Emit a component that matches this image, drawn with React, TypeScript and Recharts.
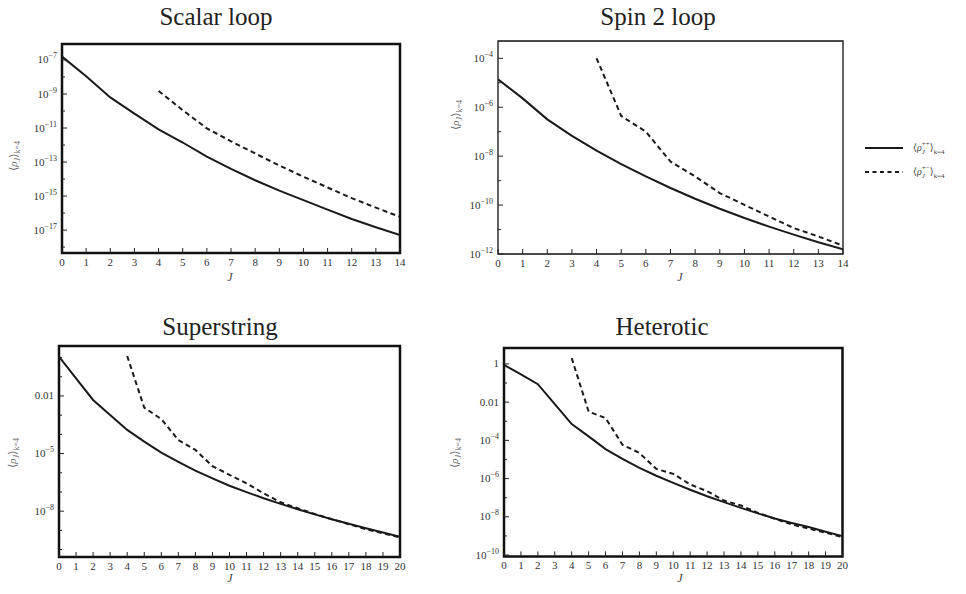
import React from 'react';
import { LineChart, Line, XAxis, YAxis, ReferenceArea } from 'recharts';

// J values on the horizontal axis
const jShort = [0, 1, 2, 3, 4, 5, 6, 7, 8, 9, 10, 11, 12, 13, 14];
const jLong = [0, 1, 2, 3, 4, 5, 6, 7, 8, 9, 10, 11, 12, 13, 14, 15, 16, 17, 18, 19, 20];

// <rho_J^{++}> (solid) and <rho_J^{+-}> (dashed), k = 4
const scalarPP = [1.58e-7, 1.12e-8, 6.3e-10, 7.1e-11, 8.3e-12, 1.41e-12, 2.1e-13, 4.0e-14, 8.5e-15, 2.1e-15, 5.8e-16, 1.6e-16, 4.5e-17, 1.48e-17, 5.1e-18];
const scalarPM = [null, null, null, null, 1.51e-9, 1.12e-10, 9.5e-12, 1.66e-12, 3.2e-13, 6.3e-14, 1.38e-14, 3.2e-15, 7.6e-16, 2.1e-16, 6.0e-17];

const spinPP = [1.38e-5, 2.3e-6, 3.2e-7, 6.8e-8, 1.7e-8, 4.7e-9, 1.48e-9, 5.0e-10, 1.82e-10, 7.1e-11, 2.95e-11, 1.32e-11, 6.2e-12, 3.0e-12, 1.55e-12];
const spinPM = [null, null, null, null, 1.0e-4, 4.4e-7, 1.0e-7, 6.0e-9, 1.48e-9, 3.1e-10, 1.02e-10, 3.4e-11, 1.15e-11, 5.2e-12, 2.2e-12];

const superPP = [1.12, 0.083, 6.2e-3, 1.02e-3, 1.7e-4, 4.2e-5, 1.12e-5, 3.7e-6, 1.29e-6, 5.1e-7, 2.1e-7, 9.8e-8, 4.7e-8, 2.4e-8, 1.26e-8, 6.8e-9, 3.8e-9, 2.2e-9, 1.29e-9, 7.8e-10, 4.7e-10];
const superPM = [null, null, null, null, 1.2, 2.45e-3, 6.3e-4, 5.1e-5, 1.55e-5, 2.2e-6, 7.8e-7, 2.8e-7, 8.5e-8, 2.9e-8, 1.41e-8, 7.1e-9, 3.8e-9, 2.1e-9, 1.15e-9, 7.1e-10, 4.2e-10];

const hetPP = [0.89, 0.28, 0.087, 7.9e-3, 7.1e-4, 1.62e-4, 3.5e-5, 1.07e-5, 3.6e-6, 1.41e-6, 6.0e-7, 2.6e-7, 1.2e-7, 5.9e-8, 2.95e-8, 1.51e-8, 8.1e-9, 4.8e-9, 2.9e-9, 1.66e-9, 9.8e-10];
const hetPM = [null, null, null, null, 2.0, 3.2e-3, 1.48e-3, 5.9e-5, 2.2e-5, 3.2e-6, 1.78e-6, 4.9e-7, 2.2e-7, 7.1e-8, 3.9e-8, 1.62e-8, 7.9e-9, 4.0e-9, 2.4e-9, 1.48e-9, 8.7e-10];

// y ticks (every decade) and the ones that carry a label
const scalarYTicks = [1e-18, 1e-17, 1e-16, 1e-15, 1e-14, 1e-13, 1e-12, 1e-11, 1e-10, 1e-9, 1e-8, 1e-7];
const scalarYLabels = [1e-17, 1e-15, 1e-13, 1e-11, 1e-9, 1e-7];
const spinYTicks = [1e-12, 1e-11, 1e-10, 1e-9, 1e-8, 1e-7, 1e-6, 1e-5, 1e-4];
const spinYLabels = [1e-12, 1e-10, 1e-8, 1e-6, 1e-4];
const superYTicks = [1e-10, 1e-9, 1e-8, 1e-7, 1e-6, 1e-5, 1e-4, 1e-3, 0.01, 0.1, 1];
const superYLabels = [1e-8, 1e-5, 0.01];
const hetYTicks = [1e-10, 1e-9, 1e-8, 1e-7, 1e-6, 1e-5, 1e-4, 1e-3, 0.01, 0.1, 1];
const hetYLabels = [1e-10, 1e-8, 1e-6, 1e-4, 0.01, 1];

const FONT = "'Liberation Serif', 'Times New Roman', 'DejaVu Serif', serif";
const INK = '#1a1a1a';

function YTick(props: any) {
  const { x, y, payload, labeled } = props;
  const v = payload.value;
  const major = labeled.includes(v);
  const exp = Math.round(Math.log10(v));
  return (
    <g>
      <line x1={x} y1={y} x2={x + (major ? 5 : 3)} y2={y} stroke="#222" strokeWidth={1} />
      {major &&
        (v >= 0.01 ? (
          <text x={x - 5} y={y + 3.5} textAnchor="end" fontSize={11} fill="#333" style={{ fontFamily: FONT }}>
            {String(v)}
          </text>
        ) : (
          <text x={x - 5} y={y + 3.5} textAnchor="end" fontSize={11} fill="#333" style={{ fontFamily: FONT }}>
            10
            <tspan dy={-5} fontSize={8}>
              {'\u2212' + Math.abs(exp)}
            </tspan>
          </text>
        ))}
    </g>
  );
}

function XTick(props: any) {
  const { x, y, payload } = props;
  return (
    <g>
      <line x1={x} y1={y} x2={x} y2={y - 5} stroke="#222" strokeWidth={1} />
      <text x={x} y={y + 13} textAnchor="middle" fontSize={11} fill="#333" style={{ fontFamily: FONT }}>
        {payload.value}
      </text>
    </g>
  );
}

interface PanelProps {
  box: { left: number; top: number; width: number; height: number };
  js: number[];
  pp: (number | null)[];
  pm: (number | null)[];
  yDomain: [number, number];
  yTicks: number[];
  yLabels: number[];
  frame: number;
}

function Panel({ box, js, pp, pm, yDomain, yTicks, yLabels, frame }: PanelProps) {
  const rows = js.map((j, i) => ({ j, pp: pp[i], pm: pm[i] }));
  const xMax = js[js.length - 1];
  const axisW = 62;
  return (
    <div style={{ position: 'absolute', left: box.left - axisW, top: box.top - 10 }}>
      <LineChart
        width={axisW + box.width + 12}
        height={10 + box.height + 30}
        data={rows}
        margin={{ top: 10, right: 12, bottom: 0, left: 0 }}
      >
        <XAxis
          type="number"
          dataKey="j"
          domain={[0, xMax]}
          ticks={js}
          interval={0}
          allowDataOverflow
          axisLine={false}
          tickLine={false}
          tickSize={0}
          tickMargin={0}
          height={30}
          tick={(p: any) => <XTick {...p} />}
        />
        <YAxis
          type="number"
          scale="log"
          domain={yDomain}
          ticks={yTicks}
          interval={0}
          allowDataOverflow
          axisLine={false}
          tickLine={false}
          tickSize={0}
          tickMargin={0}
          width={axisW}
          tick={(p: any) => <YTick {...p} labeled={yLabels} />}
        />
        <ReferenceArea
          x1={0}
          x2={xMax}
          y1={yDomain[0]}
          y2={yDomain[1]}
          fill="none"
          stroke="#111"
          strokeWidth={frame}
          ifOverflow="visible"
        />
        <Line type="linear" dataKey="pp" stroke={INK} strokeWidth={2} dot={false} isAnimationActive={false} />
        <Line
          type="linear"
          dataKey="pm"
          stroke={INK}
          strokeWidth={2}
          strokeDasharray="5 3.5"
          dot={false}
          connectNulls={false}
          isAnimationActive={false}
        />
      </LineChart>
    </div>
  );
}

function RhoLabel({ x, y }: { x: number; y: number }) {
  return (
    <text
      x={x}
      y={y}
      textAnchor="middle"
      fontSize={11}
      fill="#666"
      style={{ fontFamily: FONT }}
      transform={`rotate(-90 ${x} ${y})`}
    >
      {'\u27E8'}
      <tspan fontStyle="italic">ρ</tspan>
      <tspan fontStyle="italic" fontSize={8} dy={3}>J</tspan>
      <tspan dy={-3}>{'\u27E9'}</tspan>
      <tspan fontSize={8} dy={3}>k=4</tspan>
    </text>
  );
}

function LegendText({ x, y, sup }: { x: number; y: number; sup: string }) {
  return (
    <text x={x} y={y} fontSize={10} fill="#444" style={{ fontFamily: FONT }}>
      {'\u27E8'}
      <tspan fontStyle="italic">ρ</tspan>
      <tspan fontStyle="italic" fontSize={7} dy={3}>J</tspan>
      <tspan fontSize={7} dx={-3} dy={-8}>{sup}</tspan>
      <tspan dy={5}>{'\u27E9'}</tspan>
      <tspan fontSize={7} dy={3}>k=4</tspan>
    </text>
  );
}

export default function App() {
  return (
    <div style={styles.page}>
      <Panel
        box={{ left: 62, top: 44, width: 338, height: 209 }}
        js={jShort}
        pp={scalarPP}
        pm={scalarPM}
        yDomain={[4.5e-19, 8.7e-7]}
        yTicks={scalarYTicks}
        yLabels={scalarYLabels}
        frame={2.5}
      />
      <Panel
        box={{ left: 498, top: 41, width: 345, height: 213 }}
        js={jShort}
        pp={spinPP}
        pm={spinPM}
        yDomain={[1e-12, 5.1e-4]}
        yTicks={spinYTicks}
        yLabels={spinYLabels}
        frame={1.3}
      />
      <Panel
        box={{ left: 59, top: 345.5, width: 341, height: 211 }}
        js={jLong}
        pp={superPP}
        pm={superPM}
        yDomain={[4.1e-11, 4.0]}
        yTicks={superYTicks}
        yLabels={superYLabels}
        frame={2.5}
      />
      <Panel
        box={{ left: 504, top: 348.3, width: 338.5, height: 208.4 }}
        js={jLong}
        pp={hetPP}
        pm={hetPM}
        yDomain={[8.5e-11, 6.8]}
        yTicks={hetYTicks}
        yLabels={hetYLabels}
        frame={2.5}
      />

      <svg width={966} height={594} style={styles.overlay}>
        <g fontSize={25} fill="#222" textAnchor="middle" style={{ fontFamily: FONT }}>
          <text x={216} y={25}>Scalar loop</text>
          <text x={658} y={25}>Spin 2 loop</text>
          <text x={220} y={335}>Superstring</text>
          <text x={662} y={335}>Heterotic</text>
        </g>
        <g fontSize={12} fill="#444" fontStyle="italic" textAnchor="middle" style={{ fontFamily: FONT }}>
          <text x={230} y={281}>J</text>
          <text x={680} y={281}>J</text>
          <text x={230} y={582}>J</text>
          <text x={680} y={582}>J</text>
        </g>
        <RhoLabel x={17} y={156} />
        <RhoLabel x={459} y={115} />
        <RhoLabel x={16} y={453} />
        <RhoLabel x={458} y={453} />

        <line x1={865} y1={148} x2={903} y2={148} stroke={INK} strokeWidth={2} />
        <LegendText x={913} y={151} sup="++" />
        <line x1={865} y1={172} x2={903} y2={172} stroke={INK} strokeWidth={2} strokeDasharray="4 3.5" />
        <LegendText x={913} y={175} sup={'+\u2212'} />
      </svg>
    </div>
  );
}

const styles: Record<string, React.CSSProperties> = {
  page: {
    position: 'absolute',
    left: 0,
    top: 0,
    width: 966,
    height: 594,
    background: '#ffffff',
    overflow: 'hidden',
  },
  overlay: {
    position: 'absolute',
    left: 0,
    top: 0,
    pointerEvents: 'none',
  },
};
